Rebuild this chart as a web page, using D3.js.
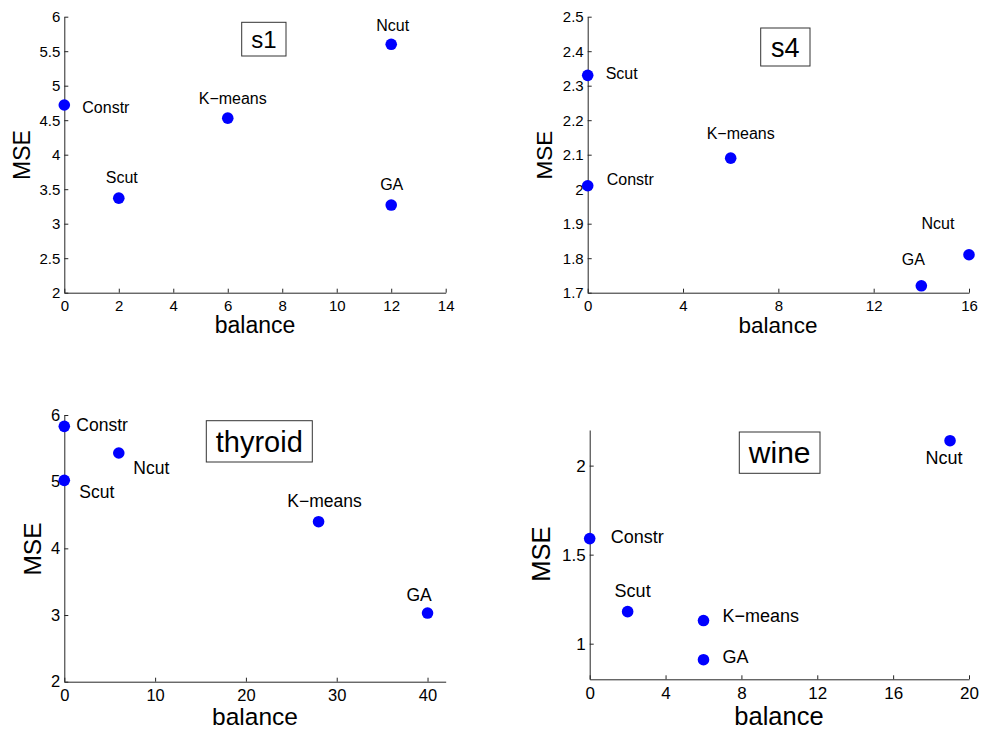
<!DOCTYPE html>
<html><head><meta charset="utf-8">
<script src="https://cdn.jsdelivr.net/npm/d3@7"></script>
<style>
body{margin:0;background:#fff}
svg{display:block}
text{font-family:"Liberation Sans",Arial,Helvetica,sans-serif;fill:#000}
</style>
</head><body><svg id="c" width="983" height="731"></svg>
<script>
// ---- data ----
const methods = ["Constr", "Scut", "K\u2212means", "Ncut", "GA"];

const s1Balance = [0, 2, 6, 12, 12];
const s1MSE = [4.72, 3.37, 4.53, 5.60, 3.27];
const s4Balance = [0, 0, 6, 16, 14];
const s4MSE = [2.01, 2.33, 2.09, 1.81, 1.72];
const thyroidBalance = [0, 0, 28, 6, 40];
const thyroidMSE = [5.83, 5.02, 4.40, 5.43, 3.03];
const wineBalance = [0, 2, 6, 19, 6];
const wineMSE = [1.59, 1.18, 1.13, 2.14, 0.91];

const s1XTicks = [0, 2, 4, 6, 8, 10, 12, 14];
const s1YTicks = [2, 2.5, 3, 3.5, 4, 4.5, 5, 5.5, 6];
const s4XTicks = [0, 4, 8, 12, 16];
const s4YTicks = [1.7, 1.8, 1.9, 2, 2.1, 2.2, 2.3, 2.4, 2.5];
const thyroidXTicks = [0, 10, 20, 30, 40];
const thyroidYTicks = [2, 3, 4, 5, 6];
const wineXTicks = [0, 4, 8, 12, 16, 20];
const wineYTicks = [1, 1.5, 2];

const panelTitles = ["s1", "s4", "thyroid", "wine"];
const xTitle = "balance";
const yTitle = "MSE";

// ---- layout ----
const panels = [
  { title: panelTitles[0], xs: s1Balance, ys: s1MSE, xTicks: s1XTicks, yTicks: s1YTicks,
    xDomain: [0, 14], yDomain: [2, 6], left: 64.3, right: 445.7, top: 16.7, bottom: 292.7,
    tickFs: 15, labelFs: 16, axisFs: 23, titleFs: 24, box: [241.7, 22.3, 44.3, 33.7],
    xTitlePos: [255, 333], yTitlePos: [30, 155],
    offs: [["start", 18, 2.5], ["middle", 3, -21], ["middle", 5, -20], ["middle", 1.5, -19], ["middle", 0.5, -21]] },
  { title: panelTitles[1], xs: s4Balance, ys: s4MSE, xTicks: s4XTicks, yTicks: s4YTicks,
    xDomain: [0, 16], yDomain: [1.7, 2.5], left: 587.7, right: 969, top: 16.7, bottom: 292.7,
    tickFs: 15, labelFs: 16, axisFs: 22.5, titleFs: 27, box: [760.7, 28, 49.3, 38],
    xTitlePos: [778, 333], yTitlePos: [552, 155],
    offs: [["start", 19, -7], ["start", 18, -2], ["middle", 10, -25], ["middle", -31, -32], ["middle", -8, -27]] },
  { title: panelTitles[2], xs: thyroidBalance, ys: thyroidMSE, xTicks: thyroidXTicks, yTicks: thyroidYTicks,
    xDomain: [0, 42], yDomain: [2, 6], left: 64.3, right: 445.7, top: 415, bottom: 681.7,
    tickFs: 16.5, labelFs: 17.5, axisFs: 24.5, titleFs: 29, box: [206.3, 420.7, 106, 41.3],
    xTitlePos: [255, 725], yTitlePos: [40.5, 549],
    offs: [["start", 12, -2], ["start", 15, 11], ["middle", 6, -21], ["start", 14.5, 15], ["middle", -8.5, -18]] },
  { title: panelTitles[3], xs: wineBalance, ys: wineMSE, xTicks: wineXTicks, yTicks: wineYTicks,
    xDomain: [0, 20], yDomain: [0.8, 2.2], left: 589.7, right: 969, top: 430, bottom: 679.3,
    tickFs: 17, labelFs: 18, axisFs: 25.5, titleFs: 30, box: [739.3, 432, 80.7, 41.3],
    xTitlePos: [779, 725], yTitlePos: [550, 554],
    offs: [["start", 21, -2], ["middle", 5, -21], ["start", 19, -5], ["middle", -6, 17], ["start", 19, -3]] }
];

const svg = d3.select("#c");
const axisColor = "#262626";

panels.forEach(p => {
  const x = d3.scaleLinear().domain(p.xDomain).range([p.left, p.right]);
  const y = d3.scaleLinear().domain(p.yDomain).range([p.bottom, p.top]);
  const g = svg.append("g");

  const xAxis = g.append("g").attr("transform", `translate(0,${p.bottom})`)
    .call(d3.axisBottom(x).tickValues(p.xTicks).tickFormat(d3.format("~g"))
      .tickSizeInner(-4).tickSizeOuter(0).tickPadding(8));
  const yAxis = g.append("g").attr("transform", `translate(${p.left},0)`)
    .call(d3.axisLeft(y).tickValues(p.yTicks).tickFormat(d3.format("~g"))
      .tickSizeInner(-4).tickSizeOuter(0).tickPadding(4));
  [xAxis, yAxis].forEach(a => {
    a.attr("font-family", null).attr("font-size", null);
    a.selectAll("path,line").attr("stroke", axisColor).attr("stroke-width", 1);
    a.selectAll("text").attr("fill", "#000").style("font-size", p.tickFs + "px");
  });

  // axis titles
  g.append("text").attr("x", p.xTitlePos[0]).attr("y", p.xTitlePos[1])
    .attr("text-anchor", "middle").style("font-size", p.axisFs + "px").text(xTitle);
  g.append("text").attr("transform", `translate(${p.yTitlePos[0]},${p.yTitlePos[1]}) rotate(-90)`)
    .attr("text-anchor", "middle").style("font-size", p.axisFs + "px").text(yTitle);

  // panel title box
  const [bx, by, bw, bh] = p.box;
  g.append("rect").attr("x", bx).attr("y", by).attr("width", bw).attr("height", bh)
    .attr("fill", "#fff").attr("stroke", "#333").attr("stroke-width", 1);
  g.append("text").attr("x", bx + bw / 2).attr("y", by + bh / 2).attr("dy", "0.36em")
    .attr("text-anchor", "middle").style("font-size", p.titleFs + "px").text(p.title);

  // points
  const pts = methods.map((m, i) => ({ name: m, bx: p.xs[i], my: p.ys[i], off: p.offs[i] }));
  g.selectAll("circle.pt").data(pts).join("circle").attr("class", "pt")
    .attr("cx", d => x(d.bx)).attr("cy", d => y(d.my)).attr("r", 5.8)
    .attr("fill", "#0000ff");
  g.selectAll("text.lbl").data(pts).join("text").attr("class", "lbl")
    .attr("x", d => x(d.bx) + d.off[1]).attr("y", d => y(d.my) + d.off[2])
    .attr("dy", "0.36em").attr("text-anchor", d => d.off[0])
    .style("font-size", p.labelFs + "px").text(d => d.name);
});
</script>
</body></html>
